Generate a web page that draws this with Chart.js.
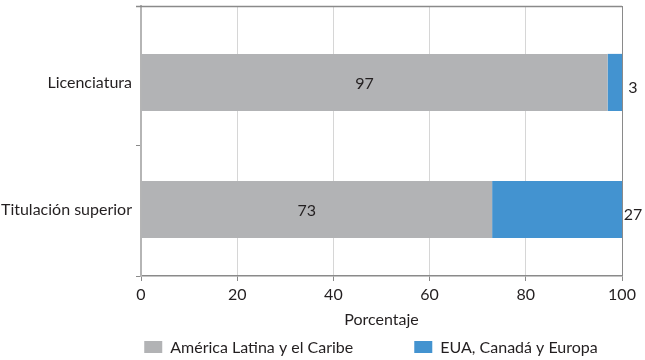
<!DOCTYPE html>
<html>
<head>
<meta charset="utf-8">
<script src="https://cdn.jsdelivr.net/npm/chart.js@4.4.1/dist/chart.umd.min.js"></script>
<style>
  html, body { margin: 0; padding: 0; background: #ffffff; }
  #wrap { width: 645px; height: 360px; position: relative; }
</style>
</head>
<body>
<div id="wrap"><canvas id="c" width="645" height="360"></canvas></div>
<script>
const categories = ['Licenciatura', 'Titulación superior'];
const seriesNames = ['América Latina y el Caribe', 'EUA, Canadá y Europa'];
const latamValues = [97, 73];
const otherValues = [3, 27];
const xTicks = [0, 20, 40, 60, 80, 100];
const axisTitle = 'Porcentaje';

const FONT = 'Lato, "Open Sans", sans-serif';
const FS = 16;
const TEXT = '#231f20';
const GRAY = '#b2b3b5';
const BLUE = '#4393d0';

// category axis range (positions 0 and 1 are the categories)
const Y_MIN = -0.602, Y_MAX = 1.524;
const yTickValues = [Y_MIN, 0, 0.5, 1, Y_MAX];

const labelPlugin = {
  id: 'labels',
  afterDatasetsDraw(chart) {
    const ctx = chart.ctx;
    const area = chart.chartArea;
    ctx.save();
    ctx.font = FS + 'px ' + FONT;
    ctx.fillStyle = TEXT;
    ctx.textAlign = 'center';
    ctx.textBaseline = 'middle';
    const m0 = chart.getDatasetMeta(0);
    m0.data.forEach((bar, i) => {
      const cx = (bar.base + bar.x) / 2 - 10;
      ctx.fillText(String(latamValues[i]), cx, bar.y + 1);
    });
    const m1 = chart.getDatasetMeta(1);
    m1.data.forEach((bar, i) => {
      ctx.fillText(String(otherValues[i]), area.right + 11, bar.y + 5);
    });
    // top frame line
    ctx.strokeStyle = '#8a8a8a';
    ctx.lineWidth = 1.5;
    ctx.beginPath();
    ctx.moveTo(area.left - 5, area.top + 0.5);
    ctx.lineTo(area.right, area.top + 0.5);
    ctx.stroke();
    ctx.restore();
  }
};

const legendPlugin = {
  id: 'customLegend',
  afterDraw(chart) {
    const ctx = chart.ctx;
    ctx.save();
    ctx.font = FS + 'px ' + FONT;
    ctx.textBaseline = 'middle';
    ctx.textAlign = 'left';
    const boxW = 18, boxH = 12, gapText = 8, gapItem = 61;
    const colors = chart.data.datasets.map(d => d.backgroundColor);
    const widths = seriesNames.map(n => boxW + gapText + ctx.measureText(n).width);
    const total = widths.reduce((a, b) => a + b, 0) + gapItem * (widths.length - 1);
    let x = 371 - total / 2;
    const y = 347;
    seriesNames.forEach((n, i) => {
      ctx.fillStyle = colors[i];
      ctx.fillRect(x, y - boxH / 2, boxW, boxH);
      ctx.fillStyle = TEXT;
      ctx.fillText(n, x + boxW + gapText, y + 1);
      x += widths[i] + gapItem;
    });
    ctx.restore();
  }
};

const isCat = (v) => Math.abs(v - Math.round(v)) < 1e-6;

new Chart(document.getElementById('c'), {
  type: 'bar',
  data: {
    datasets: [
      { label: seriesNames[0], data: latamValues.map((v, i) => ({ x: v, y: i })),
        backgroundColor: GRAY, borderWidth: 0, categoryPercentage: 1, barPercentage: 0.9 },
      { label: seriesNames[1], data: otherValues.map((v, i) => ({ x: v, y: i })),
        backgroundColor: BLUE, borderWidth: 0, categoryPercentage: 1, barPercentage: 0.9 }
    ]
  },
  options: {
    indexAxis: 'y',
    responsive: false,
    animation: false,
    layout: { padding: { left: 0, right: 23, top: 6, bottom: 28 } },
    plugins: {
      legend: { display: false },
      tooltip: { enabled: false }
    },
    scales: {
      x: {
        stacked: true,
        min: 0, max: 100,
        afterBuildTicks(scale) { scale.ticks = xTicks.map(v => ({ value: v })); },
        afterFit(scale) { scale.height = 56; },
        ticks: { color: TEXT, font: { family: FONT, size: FS }, padding: 4, maxRotation: 0 },
        grid: {
          color: (c) => (c.index === xTicks.length - 1 ? '#8a8a8a' : '#d6d6d6'),
          tickColor: '#8a8a8a',
          tickLength: 5,
          lineWidth: 1
        },
        border: { color: '#8a8a8a', width: 1.5 },
        title: { display: true, text: axisTitle, color: TEXT, font: { family: FONT, size: FS },
                 padding: { top: 4, bottom: 3 } }
      },
      y: {
        type: 'linear',
        stacked: true,
        reverse: true,
        offset: false,
        bounds: 'data',
        min: Y_MIN, max: Y_MAX,
        afterBuildTicks(scale) { scale.ticks = yTickValues.map(v => ({ value: v })); },
        afterFit(scale) { scale.width = 141; scale.paddingTop = 0; scale.paddingBottom = 0; },
        ticks: {
          color: TEXT, font: { family: FONT, size: FS }, padding: 4, autoSkip: false,
          callback: (v) => (isCat(v) ? categories[Math.round(v)] : '')
        },
        grid: {
          offset: false,
          drawOnChartArea: false, tickLength: 5, color: '#8a8a8a',
          tickColor: (c) => (c.tick && isCat(c.tick.value) ? 'rgba(0,0,0,0)' : '#8a8a8a')
        },
        border: { color: '#b5b5b5', width: 2 }
      }
    }
  },
  plugins: [labelPlugin, legendPlugin]
});
</script>
</body>
</html>
